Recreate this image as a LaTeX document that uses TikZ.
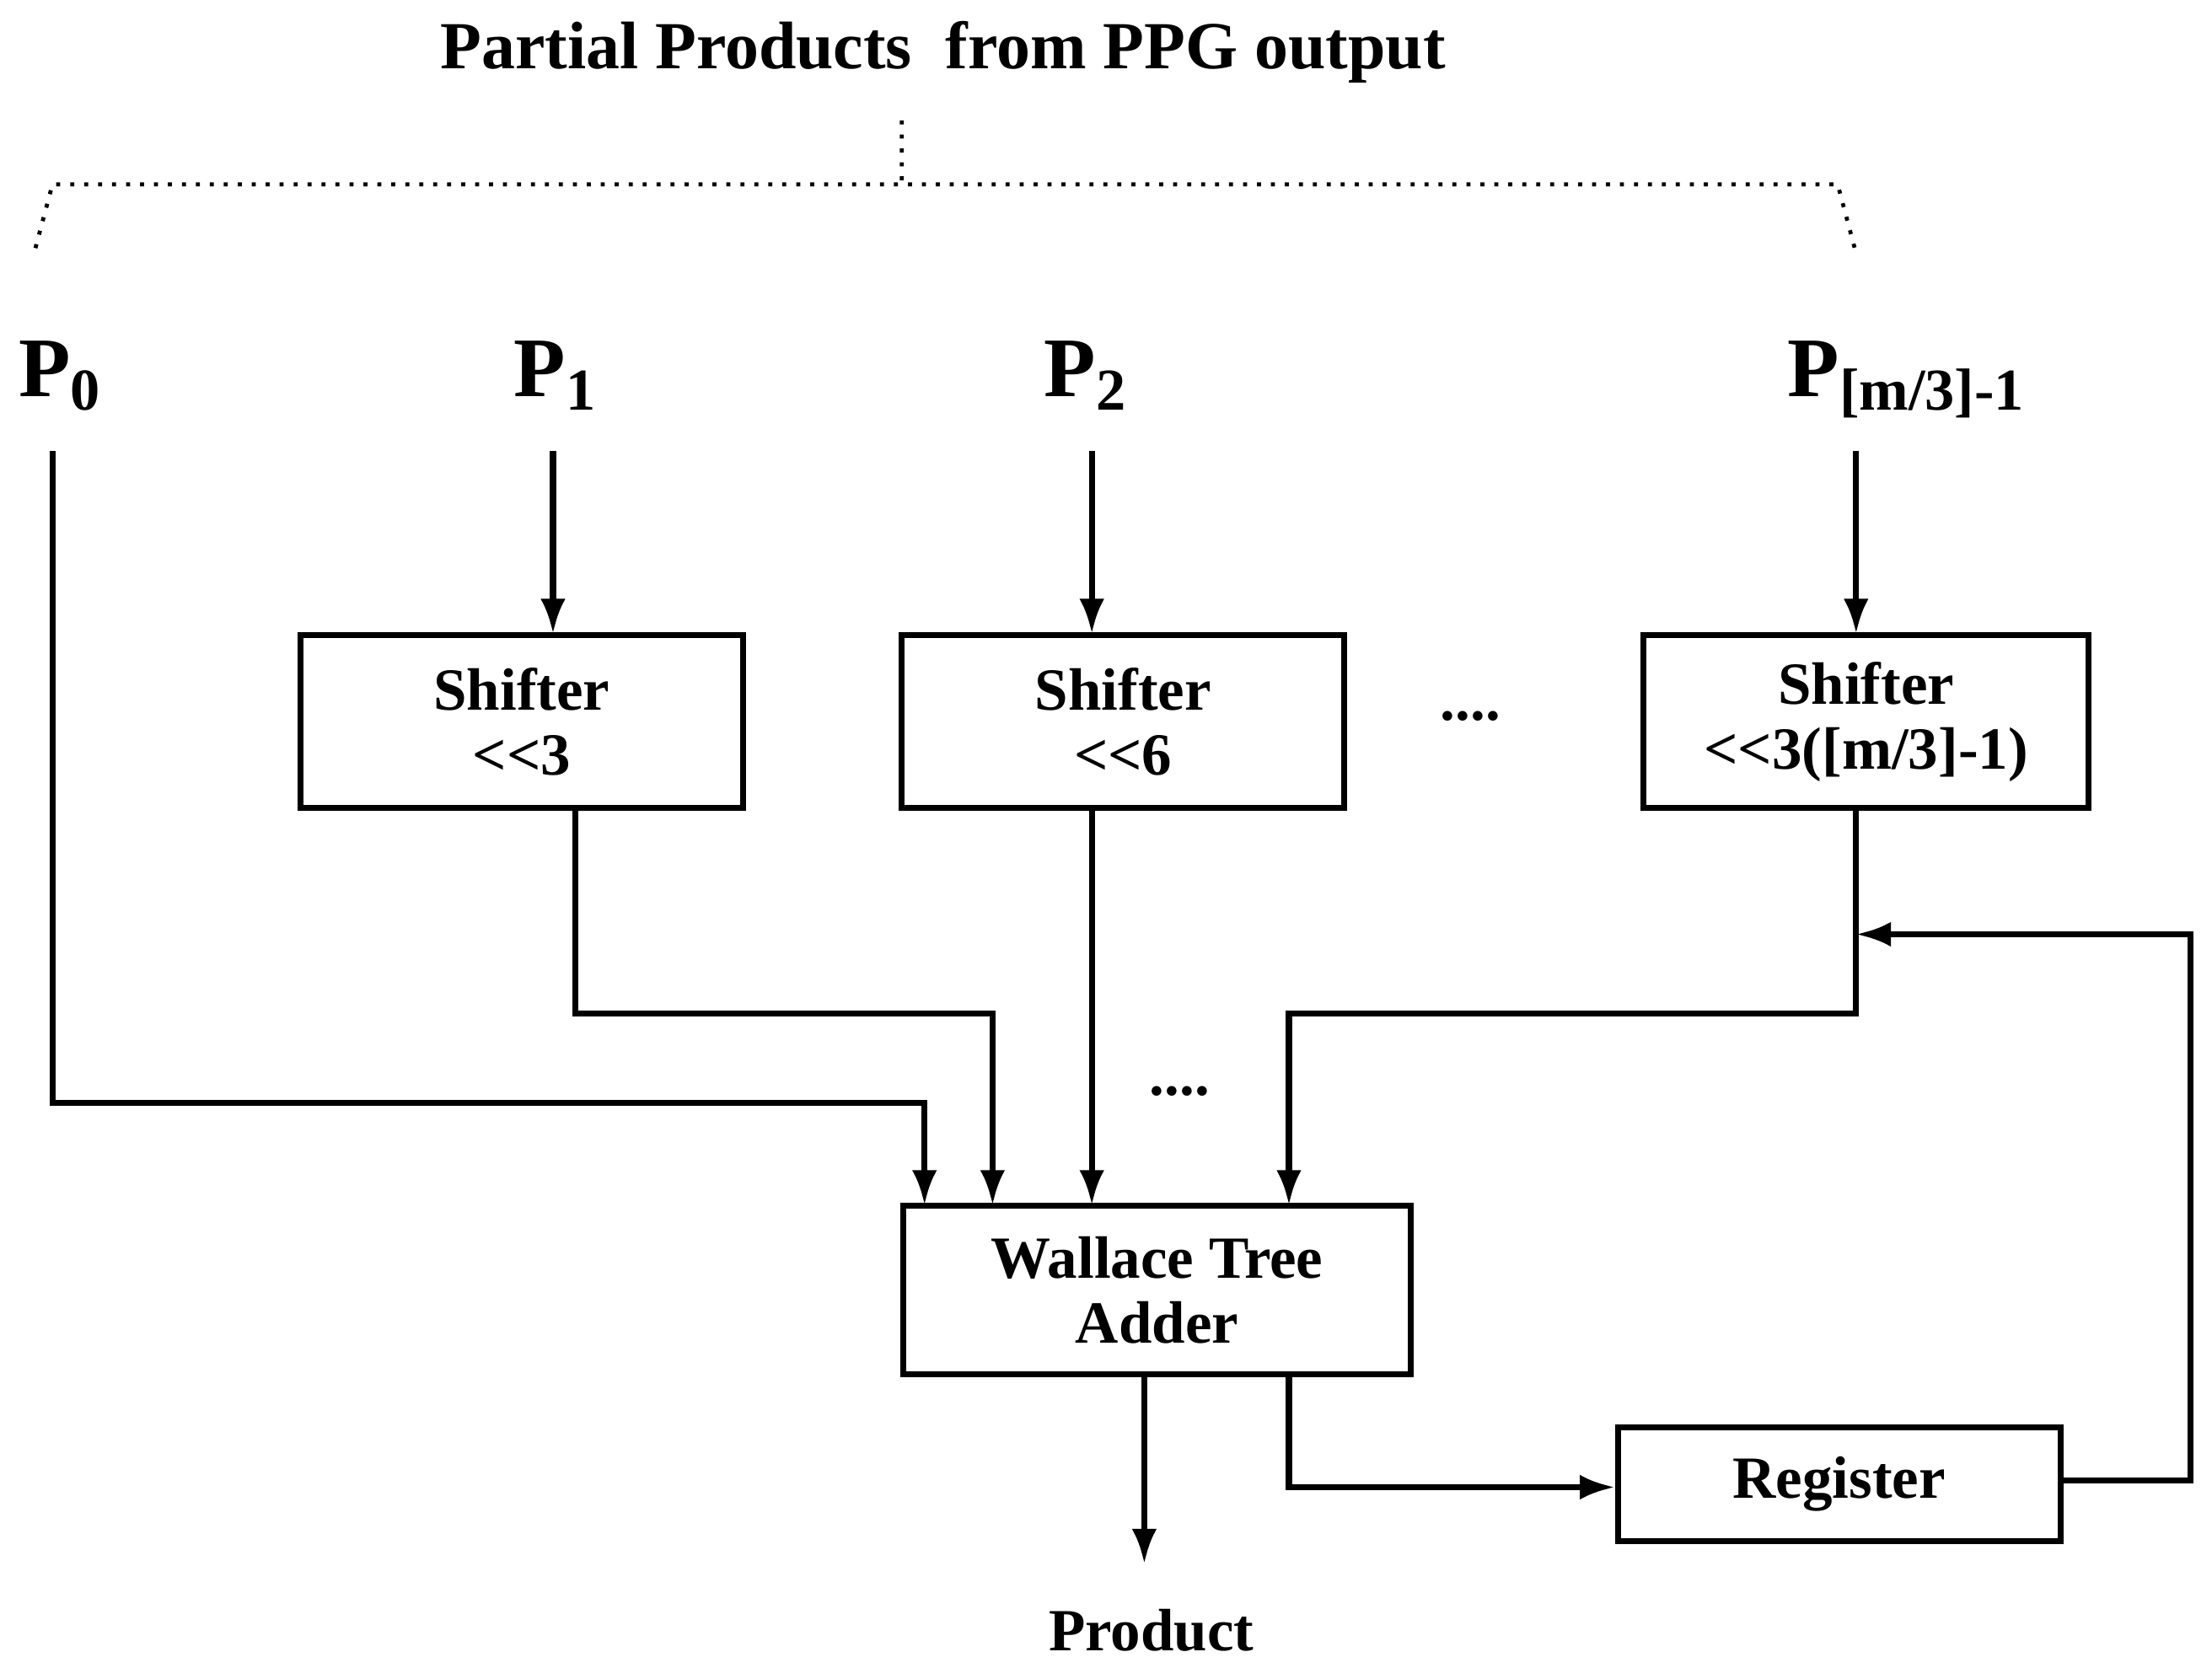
\documentclass[tikz,border=0pt]{standalone}
\usepackage{fontspec}
\setmainfont{Liberation Serif}
\usetikzlibrary{arrows.meta}
\begin{document}
\begin{tikzpicture}[x=0.01cm,y=-0.01cm,
  txt/.style={font=\bfseries\fontsize{12}{13}\selectfont,align=center,inner sep=0},
  big/.style={font=\bfseries\fontsize{17}{18}\selectfont,inner sep=0},
  box/.style={draw,line width=1.2pt,inner sep=0},
  wire/.style={line width=1.2pt},
  arr/.style={wire,-{Latex[length=7pt,width=5pt]}},
  dot/.style={line width=0.8pt,dotted}]
\useasboundingbox (0,0) rectangle (1560,1176);
\node[txt,font=\bfseries\fontsize{13.5}{14}\selectfont] (title) at (665,37) {Partial Products\ \ from PPG output};
\coordinate (bt) at (636,85); \coordinate (bm) at (636,130);
\coordinate (bl) at (37,130); \coordinate (br) at (1296,130);
\coordinate (blx) at (25,175); \coordinate (brx) at (1308,175);
\draw[dot] (bt) -- (bm) (blx) -- (bl) -- (br) -- (brx);
\node[big,anchor=base] (p0) at (43,280) {P\textsubscript{0}};
\node[big,anchor=base] (p1) at (392,280) {P\textsubscript{1}};
\node[big,anchor=base] (p2) at (766,280) {P\textsubscript{2}};
\node[big,anchor=base] (p3) at (1345,280) {P\textsubscript{[m/3]-1}};
\node[box,minimum width=3.12cm,minimum height=1.22cm,txt] (s1) at (368,509) {Shifter\\<{}<3};
\node[box,minimum width=3.12cm,minimum height=1.22cm,txt] (s2) at (792,509) {Shifter\\<{}<6};
\node[box,minimum width=3.14cm,minimum height=1.22cm,txt] (s3) at (1316,509) {Shifter\\<{}<3([m/3]-1)};
\node[txt] (d1) at (1037,505) {....};
\node[txt] (d2) at (832,770) {....};
\node[box,minimum width=3.58cm,minimum height=1.19cm,txt] (w) at (816,910) {Wallace Tree\\Adder};
\node[box,minimum width=3.12cm,minimum height=0.80cm,txt] (r) at (1297,1047) {Register};
\node[txt] (prod) at (812,1150) {Product};
\coordinate (a0) at (37,318);
\draw[arr] (a0) -- (37,778) -- (652,778) -- (652,850);
\draw[arr] (390,318) -- (390,447);
\draw[arr] (770,318) -- (770,447);
\draw[arr] (1309,318) -- (1309,447);
\draw[arr] (406,571) -- (406,715) -- (700,715) -- (700,850);
\draw[arr] (770,571) -- (770,850);
\draw[arr] (1309,571) -- (1309,715) -- (909,715) -- (909,850);
\draw[arr] (807,971) -- (807,1103);
\draw[arr] (909,971) -- (909,1049) -- (r.west|-909,1049);
\draw[arr] (r.east|-1455,1044) -- (1545,1044) -- (1545,659) -- (1309,659);
\end{tikzpicture}
\end{document}
